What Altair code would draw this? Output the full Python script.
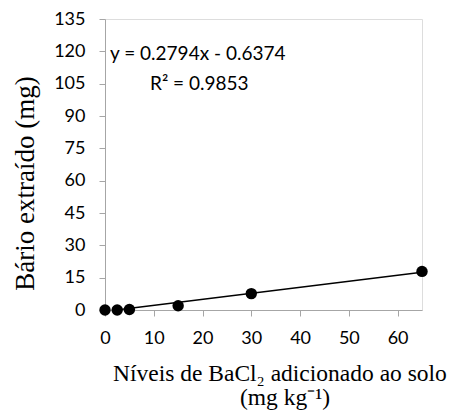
import altair as alt
import pandas as pd

# data
doses = [0, 2.5, 5, 15, 30, 65]
bario = [0.0, 0.0, 0.2, 2.0, 7.6, 17.9]
fit_x = [0, 65]
fit_y = [0.2794 * 0 - 0.6374, 0.2794 * 65 - 0.6374]
y_ticks = [0, 15, 30, 45, 60, 75, 90, 105, 120, 135]
x_ticks = [0, 10, 20, 30, 40, 50, 60]

pts = pd.DataFrame({"x": doses, "y": bario})
fit = pd.DataFrame({"x": fit_x, "y": fit_y})

W, H = 317, 291
xs = alt.Scale(domain=[0, 65], nice=False, zero=False)
ys = alt.Scale(domain=[0, 135], nice=False)

xaxis = alt.Axis(values=x_ticks, title=None, grid=False, domainColor="#a6a6a6",
                 tickColor="#a6a6a6", tickSize=6, labelFont="Lato", labelFontSize=18,
                 labelColor="#000000", labelPadding=13, labelOverlap=False,
                 labelFlush=False)
yaxis = alt.Axis(values=y_ticks, title="Bário extraído (mg)", grid=False, domainColor="#a6a6a6",
                 tickColor="#a6a6a6", tickSize=6, labelFont="Lato", labelFontSize=18,
                 labelColor="#000000", labelPadding=14, labelOverlap=False,
                 labelFlush=False, titleFont="Liberation Serif",
                 titleFontSize=27, titleFontWeight="normal", titleColor="#000000",
                 titleX=-80, titleY=164, titleAngle=-90, titleAlign="center",
                 titleBaseline="middle")

line = alt.Chart(fit).mark_line(color="black", strokeWidth=1.5, clip=True).encode(
    x=alt.X("x:Q", scale=xs, axis=xaxis),
    y=alt.Y("y:Q", scale=ys, axis=yaxis),
)
points = alt.Chart(pts).mark_circle(color="black", opacity=1, size=130).encode(
    x=alt.X("x:Q", scale=xs, axis=xaxis),
    y=alt.Y("y:Q", scale=ys, axis=yaxis),
)

def label(txt, px, py, font="Lato", size=19, align="left"):
    return alt.Chart(pd.DataFrame({"t": [txt]})).mark_text(
        font=font, fontSize=size, align=align, baseline="alphabetic", color="black"
    ).encode(text="t:N", x=alt.value(px), y=alt.value(py))

eq1 = label("y = 0.2794x - 0.6374", 5, 41)
eq2 = label("R² = 0.9853", 45, 71)
t1 = label("Níveis de BaCl₂ adicionado ao solo", 8, 362, font="Liberation Serif", size=23.5)
t2 = label("(mg kg⁻¹)", 135, 386, font="Liberation Serif", size=23.5)

chart = alt.layer(line, points, eq1, eq2, t1, t2).properties(
    width=W, height=H,
    autosize=alt.AutoSizeParams(type="none"),
    padding={"left": 97, "top": 11, "right": 34, "bottom": 100},
).configure_view(strokeWidth=0).configure(background="white")

chart.save("out.html", embed_options={"renderer": "svg", "actions": False})
